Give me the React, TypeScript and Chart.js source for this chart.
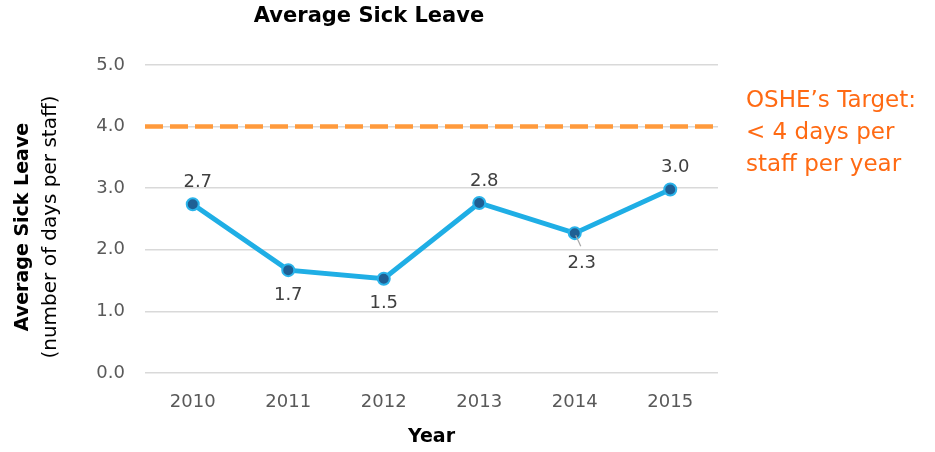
import React, { useEffect, useRef } from "react";
import { Chart, registerables } from "chart.js";

Chart.register(...registerables);

const years = ["2010", "2011", "2012", "2013", "2014", "2015"];
const sickLeave = [2.74, 1.67, 1.53, 2.76, 2.27, 2.98];
const targetValue = 4.0;
const yTickValues = [0, 1, 2, 3, 4, 5];
const chartTitle = "Average Sick Leave";
const yTitleMain = "Average Sick Leave";
const yTitleSub = "(number of days per staff)";
const xTitle = "Year";
const targetNote = ["OSHE\u2019s Target:", "< 4 days per", "staff per year"];
const labelSide = ["above", "below", "below", "above", "below", "above"];

const FONT = "'DejaVu Sans', sans-serif";

const annotationPlugin = {
  id: "customDraw",
  beforeDatasetsDraw(chart: any) {
    const { ctx, chartArea, scales } = chart;
    const y = scales.y.getPixelForValue(targetValue);
    ctx.save();
    ctx.strokeStyle = "#FF9A3C";
    ctx.lineWidth = 4.5;
    ctx.setLineDash([18, 7]);
    ctx.beginPath();
    ctx.moveTo(chartArea.left, y);
    ctx.lineTo(chartArea.right, y);
    ctx.stroke();
    ctx.restore();
  },
  afterDraw(chart: any) {
    const { ctx, chartArea } = chart;
    ctx.save();
    // Title
    ctx.fillStyle = "#000";
    ctx.font = `bold 21px ${FONT}`;
    ctx.textAlign = "center";
    ctx.textBaseline = "middle";
    ctx.fillText(chartTitle, 369, 17);

    // Y axis title
    const cy = 227;
    ctx.save();
    ctx.translate(23, cy);
    ctx.rotate(-Math.PI / 2);
    ctx.font = `bold 19px ${FONT}`;
    ctx.fillText(yTitleMain, 0, 0);
    ctx.restore();
    ctx.save();
    ctx.translate(51, cy);
    ctx.rotate(-Math.PI / 2);
    ctx.font = `20px ${FONT}`;
    ctx.fillText(yTitleSub, 0, 0);
    ctx.restore();

    // X axis title
    ctx.font = `bold 19px ${FONT}`;
    ctx.fillText(xTitle, (chartArea.left + chartArea.right) / 2, 437);

    // Target note
    ctx.fillStyle = "#FF6A13";
    ctx.font = `23px ${FONT}`;
    ctx.textAlign = "left";
    ctx.textBaseline = "alphabetic";
    targetNote.forEach((t, i) => ctx.fillText(t, 746, 107 + i * 32));

    // Data labels
    const meta = chart.getDatasetMeta(0);
    ctx.font = `18px ${FONT}`;
    ctx.textAlign = "center";
    ctx.textBaseline = "middle";
    meta.data.forEach((pt: any, i: number) => {
      const v = sickLeave[i];
      const txt = v.toFixed(1);
      let lx = pt.x + 5;
      let ly;
      if (labelSide[i] === "above") {
        ly = pt.y - 22;
      } else {
        ly = pt.y + 25;
      }
      if (i === 4) {
        lx = pt.x + 7;
        ly = pt.y + 30;
        ctx.strokeStyle = "#A6A6A6";
        ctx.lineWidth = 1.2;
        ctx.beginPath();
        ctx.moveTo(pt.x + 1, pt.y + 2);
        ctx.lineTo(pt.x + 6, pt.y + 13);
        ctx.stroke();
      }
      if (i === 1 || i === 2) lx = pt.x;
      ctx.fillStyle = "#404040";
      ctx.fillText(txt, lx, ly);
    });
    ctx.restore();
  },
};

export default function App() {
  const ref = useRef<HTMLCanvasElement>(null);
  useEffect(() => {
    document.body.style.margin = "0";
    const canvas = ref.current!;
    const chart = new Chart(canvas, {
      type: "line",
      data: {
        labels: years,
        datasets: [
          {
            data: sickLeave,
            borderColor: "#1FAEE5",
            borderWidth: 5,
            pointBackgroundColor: "#1F5F94",
            pointBorderColor: "#2AB3EA",
            pointBorderWidth: 2,
            pointRadius: 6,
            tension: 0,
          },
        ],
      },
      options: {
        animation: false,
        responsive: false,
        layout: { padding: { top: 65, right: 217, left: 0, bottom: 0 } },
        plugins: {
          legend: { display: false },
          tooltip: { enabled: false },
          title: { display: false },
        },
        scales: {
          x: {
            offset: true,
            grid: { display: false, drawTicks: false },
            border: { display: false },
            ticks: {
              color: "#595959",
              font: { family: FONT, size: 18 },
              padding: 19,
            },
            afterFit: (s: any) => {
              s.height = 79;
            },
          },
          y: {
            min: 0,
            max: 5,
            afterBuildTicks: (s: any) => {
              s.ticks = yTickValues.map((v) => ({ value: v }));
            },
            grid: { color: "#D9D9D9", lineWidth: 1.5, drawTicks: false },
            border: { display: false },
            ticks: {
              color: "#595959",
              font: { family: FONT, size: 18 },
              padding: 20,
              callback: (v: any) => Number(v).toFixed(1),
            },
            afterFit: (s: any) => {
              s.width = 145;
            },
          },
        },
      },
      plugins: [annotationPlugin],
    });
    return () => chart.destroy();
  }, []);
  return (
    <div style={{ width: 935, height: 452, background: "#fff" }}>
      <canvas ref={ref} width={935} height={452} />
    </div>
  );
}
